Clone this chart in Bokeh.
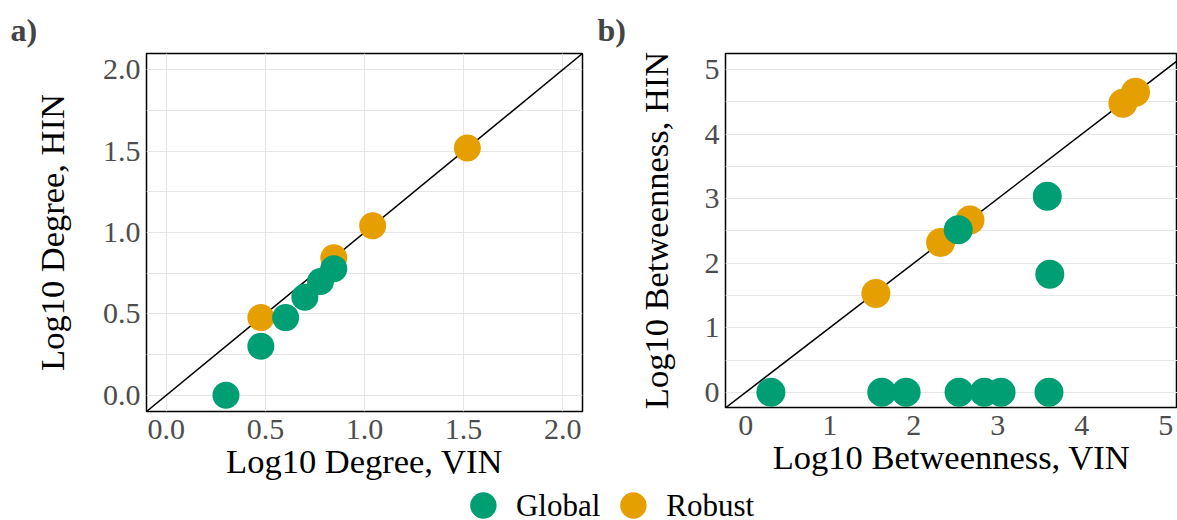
from bokeh.plotting import figure
from bokeh.layouts import row, column
from bokeh.models import Range1d, FixedTicker, Slope, Legend, LegendItem, PrintfTickFormatter
from bokeh.embed import file_html
from bokeh.resources import INLINE

# ---- data ----
series_names = ["Global", "Robust"]
series_colors = ["#009E73", "#E69F00"]

deg_global_vin = [0.301, 0.477, 0.602, 0.699, 0.778, 0.845]
deg_global_hin = [0.000, 0.301, 0.477, 0.602, 0.699, 0.778]
deg_robust_vin = [0.477, 0.845, 1.041, 1.519]
deg_robust_hin = [0.477, 0.845, 1.041, 1.519]

btw_global_vin = [0.30, 1.62, 1.91, 2.54, 2.84, 3.04, 3.61, 3.59, 3.62, 2.53]
btw_global_hin = [0.00, 0.00, 0.00, 0.00, 0.00, 0.00, 0.00, 3.04, 1.83, 2.52]
btw_robust_vin = [1.55, 2.32, 2.67, 4.49, 4.64]
btw_robust_hin = [1.53, 2.32, 2.67, 4.48, 4.65]

deg_ticks = [0.0, 0.5, 1.0, 1.5, 2.0]
deg_minor = [0.25, 0.75, 1.25, 1.75]
btw_ticks = [0, 1, 2, 3, 4, 5]
btw_minor = [0.5, 1.5, 2.5, 3.5, 4.5]

FONT = "Liberation Serif"
GRID = "#e6e6e6"


def style(p, xlabel, ylabel):
    p.outline_line_color = "black"
    p.outline_line_width = 1.5
    for ax in (p.xaxis[0], p.yaxis[0]):
        ax.axis_line_color = None
        ax.major_tick_line_color = None
        ax.minor_tick_line_color = None
        ax.major_tick_out = 0
        ax.major_tick_in = 0
        ax.minor_tick_out = 0
        ax.minor_tick_in = 0
        ax.major_label_text_font = FONT
        ax.major_label_text_font_size = "30px"
        ax.major_label_text_color = "#4d4d4d"
        ax.axis_label_text_font = FONT
        ax.axis_label_text_font_size = "34.5px"
        ax.axis_label_text_font_style = "normal"
        ax.axis_label_text_color = "black"
    p.xaxis[0].axis_label = xlabel
    p.yaxis[0].axis_label = ylabel
    p.title.text_font = FONT
    p.title.text_font_size = "32px"
    p.title.text_font_style = "bold"
    p.title.align = "left"


# ---- panel a ----
pa = figure(width=590, height=478, frame_width=436, frame_height=358,
            min_border_left=146, min_border_right=8, min_border_top=53, min_border_bottom=67,
            x_range=Range1d(-0.1, 2.1), y_range=Range1d(-0.1, 2.1),
            output_backend="svg", toolbar_location=None, title="a)")
style(pa, "Log10 Degree, VIN", "Log10 Degree, HIN")
pa.xaxis[0].ticker = FixedTicker(ticks=deg_ticks)
pa.yaxis[0].ticker = FixedTicker(ticks=deg_ticks, minor_ticks=deg_minor)
pa.xaxis[0].formatter = PrintfTickFormatter(format="%.1f")
pa.yaxis[0].formatter = PrintfTickFormatter(format="%.1f")
pa.xaxis[0].major_label_standoff = 8
pa.yaxis[0].major_label_standoff = 6
pa.xaxis[0].axis_label_standoff = 0
pa.yaxis[0].axis_label_standoff = 29
pa.xgrid.grid_line_color = GRID
pa.ygrid.grid_line_color = GRID
pa.ygrid.minor_grid_line_color = GRID
pa.title.offset = -136
pa.title.standoff = 12
pa.add_layout(Slope(gradient=1, y_intercept=0, line_color="black", line_width=1.5, level="underlay"))
pa.scatter(deg_robust_vin, deg_robust_hin, size=27, fill_color=series_colors[1], line_color=None)
pa.scatter(deg_global_vin, deg_global_hin, size=27, fill_color=series_colors[0], line_color=None)

# ---- panel b ----
pb = figure(width=587, height=478, frame_width=452, frame_height=354,
            min_border_left=135, min_border_right=0, min_border_top=53, min_border_bottom=71,
            x_range=Range1d(-0.24, 5.14), y_range=Range1d(-0.235, 5.25),
            output_backend="svg", toolbar_location=None, title="b)")
style(pb, "Log10 Betweenness, VIN", "Log10 Betweenness, HIN")
pb.xaxis[0].ticker = FixedTicker(ticks=btw_ticks)
pb.yaxis[0].ticker = FixedTicker(ticks=btw_ticks, minor_ticks=btw_minor)
pb.xaxis[0].major_label_standoff = 8
pb.yaxis[0].major_label_standoff = 6
pb.xaxis[0].axis_label_standoff = 0
pb.yaxis[0].axis_label_standoff = 27
pb.xgrid.grid_line_color = None
pb.ygrid.grid_line_color = GRID
pb.ygrid.minor_grid_line_color = GRID
pb.title.offset = -128
pb.title.standoff = 12
pb.add_layout(Slope(gradient=1, y_intercept=0, line_color="black", line_width=1.5, level="underlay"))
pb.scatter(btw_robust_vin, btw_robust_hin, size=29, fill_color=series_colors[1], line_color=None)
pb.scatter(btw_global_vin, btw_global_hin, size=29, fill_color=series_colors[0], line_color=None)

# ---- legend (its renderers lie outside the visible range; only the legend shows) ----
pl = figure(width=1177, height=42, min_border_left=27, min_border_right=0,
            min_border_top=4, min_border_bottom=0,
            x_range=Range1d(100, 101), y_range=Range1d(100, 101),
            x_axis_location=None, y_axis_location=None,
            output_backend="svg", toolbar_location=None)
pl.grid.visible = False
pl.outline_line_color = None
leg_src = [(deg_global_vin, deg_global_hin), (deg_robust_vin, deg_robust_hin)]
items = []
for name, col, (xs, ys) in zip(series_names, series_colors, leg_src):
    r = pl.scatter(xs, ys, size=30, fill_color=col, line_color=None)
    items.append(LegendItem(label=name, renderers=[r]))
leg = Legend(items=items, orientation="horizontal", location="center",
             glyph_width=66, glyph_height=75, label_standoff=0, spacing=0,
             padding=0, margin=0, border_line_color=None, background_fill_alpha=0,
             label_text_font=FONT, label_text_font_size="31px", label_text_color="black")
pl.add_layout(leg)

layout = column(row(pa, pb), pl)
open("out.html", "w").write(file_html(layout, INLINE))
